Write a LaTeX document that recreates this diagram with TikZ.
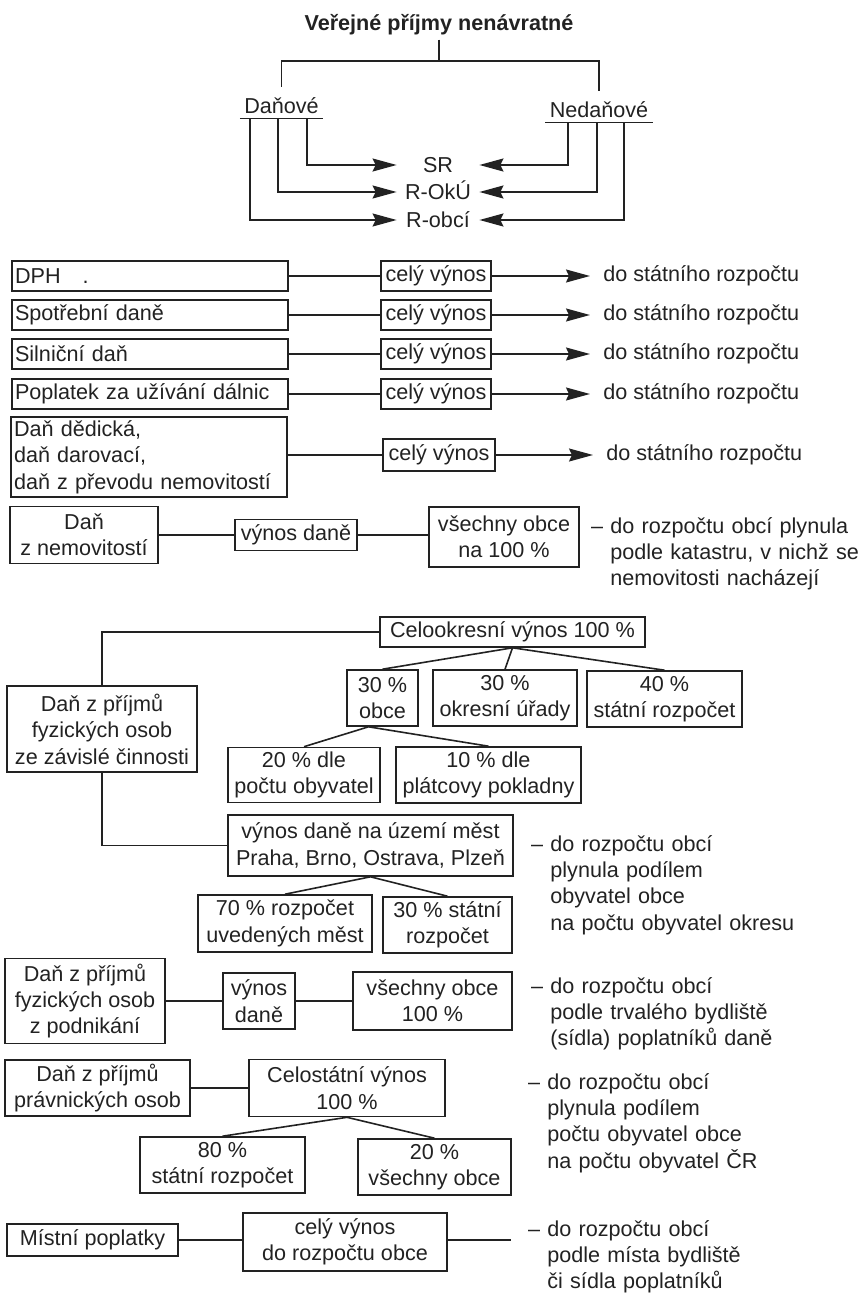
\documentclass[tikz,border=0pt]{standalone}
\usepackage{fontspec}
\setmainfont{Liberation Sans}
\usetikzlibrary{arrows.meta}
\definecolor{ink}{HTML}{222222}
\tikzset{
    box/.style={draw=ink, line width=0.8pt, inner sep=1pt, align=center},
    taxbox/.style={draw=ink, line width=0.8pt, inner xsep=1.5pt, inner ysep=0pt, text width=135pt, align=left, minimum height=15pt},
    headword/.style={inner xsep=2pt, inner ysep=0pt, text height=13.5pt, text depth=2pt, anchor=base},
    recipient/.style={minimum width=41pt, inner sep=0pt, text height=7.5pt, text depth=0pt},
    rowtext/.style={anchor=west, inner xsep=6.5pt, inner ysep=0pt},
    remark/.style={anchor=base west, inner sep=0pt, text width=125pt, align=left},
    link/.style={draw=ink, line width=0.8pt},
    arr/.style={link, -{Stealth[length=12pt, width=6.5pt, inset=1.5pt]}}
}
\begin{document}
\begin{tikzpicture}[x=0.5pt, y=-0.5pt, color=ink, font=\fontsize{10.8pt}{13.2pt}\selectfont]
    \useasboundingbox (0,0) rectangle (857,1294);

    % Title and split into the two kinds of income
    \node[font=\fontsize{10.8pt}{13.2pt}\selectfont\bfseries, inner sep=2pt] (title) at (439,25) {Veřejné příjmy nenávratné};
    \node[headword] (danove) at (281.5,114) {Daňové};
    \node[headword] (nedanove) at (599,118) {Nedaňové};
    \coordinate (split) at (439,61);
    \draw[link] (title.south) -- (split);
    \draw[link] (danove.north) |- (split) -| (nedanove.north);
    \draw[link] (danove.south west) -- (danove.south east);
    \draw[link] (nedanove.south west) -- (nedanove.south east);

    % Budgets
    \node[recipient] (sr) at (438,165) {SR};
    \node[recipient] (rok) at (438,192) {R-OkÚ};
    \node[recipient] (robci) at (438,220) {R-obcí};
    \draw[arr] ([xshift=12.75pt]danove.south) |- (sr.west);
    \draw[arr] ([xshift=-1.75pt]danove.south) |- (rok.west);
    \draw[arr] ([xshift=-15.75pt]danove.south) |- (robci.west);
    \draw[arr] ([xshift=-15.5pt]nedanove.south) |- (sr.east);
    \draw[arr] ([xshift=-1pt]nedanove.south) |- (rok.east);
    \draw[arr] ([xshift=12.5pt]nedanove.south) |- (robci.east);

    % Taxes going wholly to the state budget
    \node[taxbox] (dph) at (150,276) {DPH\hspace{11pt}.};
    \node[box, minimum width=55pt, minimum height=15pt] (cely1) at (436,276) {celý výnos};
    \node[rowtext] (sr1) at (590,276) {do státního rozpočtu};
    \draw[link] (dph) -- (cely1);
    \draw[arr] (cely1) -- (sr1);

    \node[taxbox] (spotrebni) at (150,315) {Spotřební daně};
    \node[box, minimum width=55pt, minimum height=15pt] (cely2) at (436,315) {celý výnos};
    \node[rowtext] (sr2) at (590,315) {do státního rozpočtu};
    \draw[link] (spotrebni) -- (cely2);
    \draw[arr] (cely2) -- (sr2);

    \node[taxbox] (silnicni) at (150,354) {Silniční daň};
    \node[box, minimum width=55pt, minimum height=15pt] (cely3) at (436,354) {celý výnos};
    \node[rowtext] (sr3) at (590,354) {do státního rozpočtu};
    \draw[link] (silnicni) -- (cely3);
    \draw[arr] (cely3) -- (sr3);

    \node[taxbox] (dalnice) at (150,394) {Poplatek za užívání dálnic};
    \node[box, minimum width=55pt, minimum height=15pt] (cely4) at (436,394) {celý výnos};
    \node[rowtext] (sr4) at (590,394) {do státního rozpočtu};
    \draw[link] (dalnice) -- (cely4);
    \draw[arr] (cely4) -- (sr4);

    \node[taxbox, minimum height=40pt] (dedicka) at (149,457) {Daň dědická,\\daň darovací,\\daň z převodu nemovitostí};
    \node[box, minimum width=56pt, minimum height=16pt] (cely5) at (439,455) {celý výnos};
    \node[rowtext] (sr5) at (593,455) {do státního rozpočtu};
    \draw[link] (dedicka.east |- cely5.west) -- (cely5.west);
    \draw[arr] (cely5) -- (sr5);

    % Property tax
    \node[box, minimum width=74pt, minimum height=28.5pt] (nemovitosti) at (84,535) {Daň\\z nemovitostí};
    \node[box, minimum width=61pt, minimum height=15.5pt] (vynos1) at (296,535) {výnos daně};
    \node[box, minimum width=75pt, minimum height=30pt] (obce1) at (504,537) {všechny obce\\na 100 \%};
    \draw[link] (nemovitosti) -- (vynos1);
    \draw[link] (vynos1.east) -- (vynos1.east -| obce1.west);
    \node[remark] (pozn1) at (610,533) {\llap{– }do rozpočtu obcí plynula\\podle katastru, v nichž se\\nemovitosti nacházejí};

    % Income tax from employment
    \node[box, minimum width=132.5pt, minimum height=15pt] (celookresni) at (512.5,632) {Celookresní výnos 100 \%};
    \node[box, minimum width=95pt, minimum height=43pt] (zavisla) at (102,729) {Daň z příjmů\\fyzických osob\\ze závislé činnosti};
    \node[box, minimum width=35.5pt, minimum height=28pt] (obce30) at (382.5,698) {30 \%\\obce};
    \node[box, minimum width=72pt, minimum height=28pt] (okres30) at (505,698) {30 \%\\okresní úřady};
    \node[box, minimum width=77.5pt, minimum height=28pt] (stat40) at (664.5,699) {40 \%\\státní rozpočet};
    \node[box, minimum width=76pt, minimum height=27.5pt] (obyv20) at (304,775) {20 \% dle\\počtu obyvatel};
    \node[box, minimum width=92.5pt, minimum height=28pt] (plat10) at (488.5,775) {10 \% dle\\plátcovy pokladny};
    \node[box, minimum width=142.5pt, minimum height=30.5pt] (mesta) at (370.5,845.5) {výnos daně na území měst\\Praha, Brno, Ostrava, Plzeň};
    \node[box, minimum width=87pt, minimum height=28.5pt] (mesta70) at (285,923.5) {70 \% rozpočet\\uvedených měst};
    \node[box, minimum width=64.5pt, minimum height=28pt] (stat30) at (447.5,925) {30 \% státní\\rozpočet};
    \draw[link] (celookresni.west) -| (zavisla.north);
    \draw[link] (zavisla.south) |- (mesta.west);
    \draw[link] (celookresni.south) -- (obce30.north);
    \draw[link] (celookresni.south) -- (okres30.north);
    \draw[link] (celookresni.south) -- (stat40.north);
    \draw[link] ([xshift=-7pt]obce30.south) -- (obyv20.north);
    \draw[link] ([xshift=-7pt]obce30.south) -- (plat10.north);
    \draw[link] (mesta.south) -- (mesta70.north);
    \draw[link] (mesta.south) -- (stat30.north);
    \node[remark] (pozn2) at (550,851) {\llap{– }do rozpočtu obcí\\plynula podílem\\obyvatel obce\\na počtu obyvatel okresu};

    % Income tax from business
    \node[box, minimum width=80pt, minimum height=42.5pt] (podnikani) at (85,1001) {Daň z příjmů\\fyzických osob\\z podnikání};
    \node[box, minimum width=36pt, minimum height=28pt] (vynos2) at (259,1001) {výnos\\daně};
    \node[box, minimum width=79.5pt, minimum height=29pt] (obce2) at (432.5,1001) {všechny obce\\100 \%};
    \draw[link] (podnikani) -- (vynos2);
    \draw[link] (vynos2) -- (obce2);
    \node[remark] (pozn3) at (550,993) {\llap{– }do rozpočtu obcí\\podle trvalého bydliště\\(sídla) poplatníků daně};

    % Corporate income tax
    \node[box, minimum width=92.5pt, minimum height=28pt] (pravnicke) at (97.5,1088) {Daň z příjmů\\právnických osob};
    \node[box, minimum width=98pt, minimum height=28.5pt] (celostatni) at (347,1088) {Celostátní výnos\\100 \%};
    \node[box, minimum width=82.5pt, minimum height=28pt] (stat80) at (222.5,1165) {80 \%\\státní rozpočet};
    \node[box, minimum width=76.5pt, minimum height=28pt] (obce20) at (434.5,1167) {20 \%\\všechny obce};
    \draw[link] (pravnicke) -- (celostatni);
    \draw[link] (celostatni.south) -- (stat80.north);
    \draw[link] (celostatni.south) -- (obce20.north);
    \node[remark] (pozn4) at (547,1089) {\llap{– }do rozpočtu obcí\\plynula podílem\\počtu obyvatel obce\\na počtu obyvatel ČR};

    % Local fees
    \node[box, minimum width=85.5pt, minimum height=16pt] (mistni) at (92.5,1240) {Místní poplatky};
    \node[box, minimum width=102pt, minimum height=29pt] (obce3) at (345,1242) {celý výnos\\do rozpočtu obce};
    \coordinate (mistniend) at (511,1240);
    \draw[link] (mistni.east) -- (mistni.east -| obce3.west);
    \draw[link] (obce3.east |- mistniend) -- (mistniend);
    \node[remark] (pozn5) at (547,1236) {\llap{– }do rozpočtu obcí\\podle místa bydliště\\či sídla poplatníků};
\end{tikzpicture}
\end{document}
